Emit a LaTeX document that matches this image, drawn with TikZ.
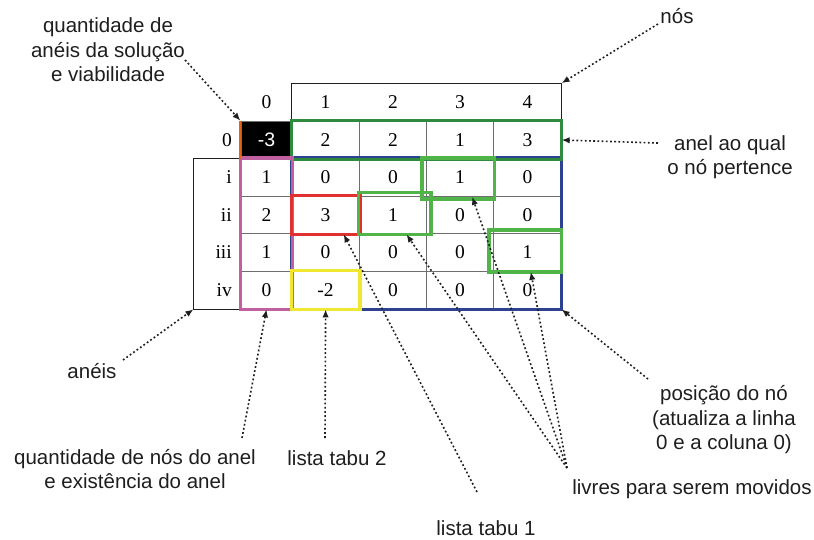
\documentclass[tikz,border=0pt]{standalone}
\usepackage{fontspec}
\setmainfont{Liberation Serif}
\setsansfont{Liberation Sans}
\usetikzlibrary{arrows.meta}
\pgfdeclarelayer{celllayer}
\pgfdeclarelayer{boxlayer}
\pgfsetlayers{celllayer,boxlayer,main}
\definecolor{ringgreen}{RGB}{46,139,62}
\definecolor{posblue}{RGB}{47,65,145}
\definecolor{countpink}{RGB}{192,96,160}
\definecolor{tabured}{RGB}{224,48,48}
\definecolor{tabuyellow}{RGB}{240,232,48}
\definecolor{freegreen}{RGB}{80,180,72}
\definecolor{solorange}{RGB}{230,100,20}
\definecolor{gridgray}{RGB}{110,110,110}
\definecolor{inkgray}{RGB}{30,30,30}
\newcommand{\cellfont}{\fontsize{19.5}{19.5}\selectfont}
\newcommand{\notefont}{\sffamily\fontsize{20.5}{24.5}\selectfont}
\tikzstyle{cell}=[draw=gridgray, line width=1.2pt, minimum width=67.25pt, minimum height=37.5pt, inner sep=0pt, font=\cellfont]
\tikzstyle{zerocell}=[cell, minimum width=51pt]
\tikzstyle{headcell}=[cell, draw=none]
\tikzstyle{rowlabel}=[anchor=east, inner sep=0pt, font=\cellfont]
\tikzstyle{frame}=[draw=inkgray, line width=1.3pt]
\tikzstyle{note}=[align=center, inner sep=0pt, font=\notefont, text=inkgray]
\tikzstyle{pointer}=[draw=inkgray, line width=1.6pt, dash pattern=on 1.8pt off 2.4pt, -{Latex[length=8pt,width=6.5pt]}]
\tikzstyle{markbox}=[line width=3.5pt]

\begin{document}
\begin{tikzpicture}[x=1pt, y=-1pt]
	\useasboundingbox (0, 0) rectangle (814, 539);
	\begin{pgfonlayer}{celllayer}
		% column headers (nodes)
		\node [style=headcell, minimum width=51pt] (h0) at (266.5, 102.5) {0};
		\node [style=headcell] (h1) at (325.6, 102.5) {1};
		\node [style=headcell] (h2) at (392.9, 102.5) {2};
		\node [style=headcell] (h3) at (460.1, 102.5) {3};
		\node [style=headcell] (h4) at (527.4, 102.5) {4};
		% row headers (rings)
		\node [style=rowlabel] (l0) at (232, 140) {0};
		\node [style=rowlabel] (l1) at (232, 177.5) {i};
		\node [style=rowlabel] (l2) at (232, 215) {ii};
		\node [style=rowlabel] (l3) at (232, 252.5) {iii};
		\node [style=rowlabel] (l4) at (232, 290) {iv};
		% row 0
		\node [style=zerocell, fill=black, text=white, font=\sffamily\cellfont] (r0c0) at (266.5, 140) {-3};
		\node [style=cell] (r0c1) at (325.6, 140) {2};
		\node [style=cell] (r0c2) at (392.9, 140) {2};
		\node [style=cell] (r0c3) at (460.1, 140) {1};
		\node [style=cell] (r0c4) at (527.4, 140) {3};
		% row i
		\node [style=zerocell] (r1c0) at (266.5, 177.5) {1};
		\node [style=cell] (r1c1) at (325.6, 177.5) {0};
		\node [style=cell] (r1c2) at (392.9, 177.5) {0};
		\node [style=cell] (r1c3) at (460.1, 177.5) {1};
		\node [style=cell] (r1c4) at (527.4, 177.5) {0};
		% row ii
		\node [style=zerocell] (r2c0) at (266.5, 215) {2};
		\node [style=cell] (r2c1) at (325.6, 215) {3};
		\node [style=cell] (r2c2) at (392.9, 215) {1};
		\node [style=cell] (r2c3) at (460.1, 215) {0};
		\node [style=cell] (r2c4) at (527.4, 215) {0};
		% row iii
		\node [style=zerocell] (r3c0) at (266.5, 252.5) {1};
		\node [style=cell] (r3c1) at (325.6, 252.5) {0};
		\node [style=cell] (r3c2) at (392.9, 252.5) {0};
		\node [style=cell] (r3c3) at (460.1, 252.5) {0};
		\node [style=cell] (r3c4) at (527.4, 252.5) {1};
		% row iv
		\node [style=zerocell] (r4c0) at (266.5, 290) {0};
		\node [style=cell] (r4c1) at (325.6, 290) {-2};
		\node [style=cell] (r4c2) at (392.9, 290) {0};
		\node [style=cell] (r4c3) at (460.1, 290) {0};
		\node [style=cell] (r4c4) at (527.4, 290) {0};
		% outer frames
		\draw [style=frame] (h1.south west) -- (h1.north west) -- (h4.north east) -- (h4.south east);
		\draw [style=frame] (r1c0.north west) -- ++(-47, 0) |- (r4c0.south west);
	\end{pgfonlayer}
	\begin{pgfonlayer}{boxlayer}
		\draw [style=markbox, draw=posblue] (r1c1.north west) rectangle (r4c4.south east);
		\draw [style=markbox, draw=ringgreen] (r0c1.north west) rectangle (r0c4.south east);
		\draw [style=markbox, draw=countpink] (r1c0.north west) rectangle (r4c0.south east);
		\draw [style=markbox, draw=solorange, line width=2pt] (r0c0.north west) -- (r0c0.south west);
		\draw [style=markbox, draw=tabured] (r2c1.north west) rectangle (r2c1.south east);
		\draw [style=markbox, draw=tabuyellow] (r4c1.north west) rectangle (r4c1.south east);
		\draw [style=markbox, draw=freegreen] ([shift={(-4, 0)}]r1c3.north west) rectangle ([shift={(0, 2)}]r1c3.south east);
		\draw [style=markbox, draw=freegreen] ([shift={(0, -3)}]r2c2.north west) rectangle ([shift={(4, 0)}]r2c2.south east);
		\draw [style=markbox, draw=freegreen] ([shift={(-4, -3)}]r3c4.north west) rectangle (r3c4.south east);
	\end{pgfonlayer}
	% labels
	\node [style=note] (qaneis) at (108, 50) {quantidade de\\anéis da solução\\e viabilidade};
	\node [style=note] (nos) at (677, 16) {nós};
	\node [style=note] (anel) at (730, 157) {anel ao qual\\o nó pertence};
	\node [style=note] (aneis) at (92, 371) {anéis};
	\node [style=note] (qnos) at (135, 469) {quantidade de nós do anel\\e existência do anel};
	\node [style=note] (tabu2) at (337, 458) {lista tabu 2};
	\node [style=note] (tabu1) at (486, 528) {lista tabu 1};
	\node [style=note] (livres) at (692, 489) {livres para serem movidos};
	\node [style=note] (posicao) at (724, 420) {posição do nó\\(atualiza a linha\\0 e a coluna 0)};
	% pointer tails
	\coordinate (t1) at (185, 60);
	\coordinate (t2) at (658, 24);
	\coordinate (t3) at (658, 143);
	\coordinate (t4) at (123, 360);
	\coordinate (t5) at (242, 438);
	\coordinate (t6) at (325, 438);
	\coordinate (t7) at (477, 492);
	\coordinate (t8) at (567, 468);
	\coordinate (t9) at (648, 379);
	% pointers
	\draw [style=pointer] (t1) to (r0c0.north west);
	\draw [style=pointer] (t2) to (h4.north east);
	\draw [style=pointer] (t3) to (r0c4.east);
	\draw [style=pointer] (t4) to ([shift={(-47, 0)}]r4c0.south west);
	\draw [style=pointer] (t5) to (r4c0.south);
	\draw [style=pointer] (t6) to (r4c1.south);
	\draw [style=pointer] (t7) to (r2c1.-47);
	\draw [style=pointer] (t8) to (r2c2.-55);
	\draw [style=pointer] (t8) to (r1c3.-58);
	\draw [style=pointer] (t8) to (r3c4.-80);
	\draw [style=pointer] (t9) to (r4c4.south east);
\end{tikzpicture}
\end{document}
